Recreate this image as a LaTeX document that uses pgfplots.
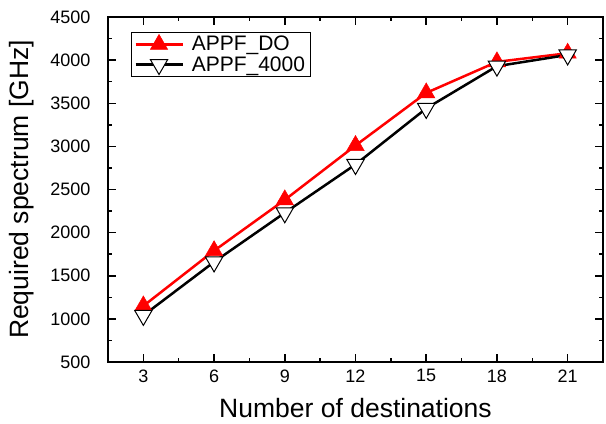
\documentclass[border=0pt]{standalone}
\usepackage{fontspec}
\setmainfont{Liberation Sans}
\usepackage{pgfplots}
\pgfplotsset{compat=1.18}
\begin{document}
\begin{tikzpicture}
\begin{axis}[name=ax, scale only axis, width=495bp, height=345bp,
  xmin=1.5, xmax=22.5, ymin=500, ymax=4500,
  xtick={3,6,...,21}, ytick={500,1000,...,4500},
  minor x tick num=1, minor y tick num=1,
  tick align=inside, major tick length=8bp, minor tick length=4bp,
  axis line style={line width=1.5bp},
  every tick/.style={line width=1.5bp, black},
  tick label style={font=\fontsize{18bp}{20bp}\selectfont},
  yticklabel style={xshift=-14bp},
  xticklabel style={yshift=-4bp},
  /pgf/number format/assume math mode=true,
  /pgf/number format/1000 sep={},
  xlabel={Number of destinations},
  ylabel={Required spectrum [GHz]},
  every axis x label/.style={at={(rel axis cs:0.5,-0.1623)}, anchor=base, font=\fontsize{26.5bp}{30bp}\selectfont},
  every axis y label/.style={at={(rel axis cs:-0.174,0.5)}, anchor=center, rotate=90, font=\fontsize{26.5bp}{30bp}\selectfont},
  legend style={at={(0.046,0.957)}, anchor=north west, draw=black, line width=1bp,
    font=\fontsize{21bp}{24bp}\selectfont, inner xsep=3bp, inner ysep=2bp, row sep=0bp,
    cells={anchor=west},
    /tikz/every odd column/.append style={column sep=6bp}},
  legend image code/.code={\draw[mark repeat=2, mark phase=2, #1] plot coordinates {(0bp,0bp) (23.5bp,0bp) (47bp,0bp)};},
]
\addplot[red, line width=2.5bp, mark=triangle*, mark size=10bp,
  mark options={fill=red, draw=red, line width=0.5bp, solid}]
  coordinates {(3,1150) (6,1790) (9,2380) (12,3010) (15,3620) (18,3980) (21,4080)};
\addlegendentry{APPF\_DO}
\addplot[black, line width=2.5bp, mark=triangle*, mark size=10bp,
  mark options={fill=white, draw=black, line width=1bp, rotate=180, solid}]
  coordinates {(3,1040) (6,1660) (9,2230) (12,2790) (15,3440) (18,3930) (21,4060)};
\addlegendentry{APPF\_4000}
\end{axis}
\pgfresetboundingbox
\path ([shift={(-108bp,-62bp)}]ax.south west) rectangle ([shift={(3bp,17bp)}]ax.north east);
\end{tikzpicture}
\end{document}
